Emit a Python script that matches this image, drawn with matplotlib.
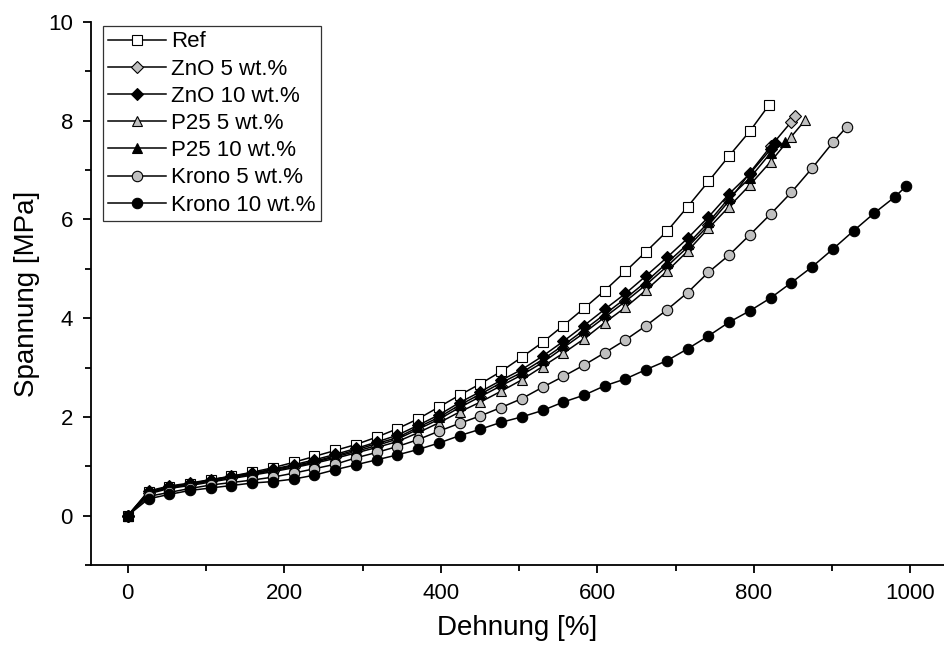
import matplotlib
matplotlib.use("Agg")
import matplotlib.pyplot as plt
from matplotlib.ticker import MultipleLocator

plt.rcParams['font.family'] = ['Liberation Sans', 'DejaVu Sans']

# strain positions of the plotted markers (every sampled point shown)
strain = [0, 26.5, 53, 79.5, 106, 132.5, 159, 185.5, 212, 238.5, 265, 291.5,
          318, 344.5, 371, 397.5, 424, 450.5, 477, 503.5, 530, 556.5, 583,
          609.5, 636, 662.5, 689, 715.5, 742, 768.5, 795, 821.5, 848, 874.5,
          901, 927.5, 954, 980.5]

# stress values [MPa] at those strains, last entry = break point
ref = [0, 0.47, 0.57, 0.64, 0.72, 0.80, 0.88, 0.97, 1.08, 1.20, 1.32, 1.44,
       1.59, 1.76, 1.96, 2.20, 2.44, 2.67, 2.92, 3.21, 3.51, 3.85, 4.20, 4.56,
       4.95, 5.35, 5.76, 6.26, 6.77, 7.29, 7.79]
ref_break = (819, 8.31)

zno5 = [0, 0.46, 0.57, 0.63, 0.70, 0.77, 0.84, 0.91, 0.99, 1.08, 1.19, 1.30,
        1.42, 1.55, 1.75, 1.95, 2.19, 2.41, 2.63, 2.85, 3.10, 3.40, 3.70, 4.02,
        4.34, 4.68, 5.05, 5.44, 5.88, 6.38, 6.95, 7.48, 7.98]
zno5_break = (853, 8.10)

zno10 = [0, 0.50, 0.60, 0.66, 0.73, 0.80, 0.86, 0.94, 1.03, 1.13, 1.24, 1.36,
         1.49, 1.63, 1.83, 2.04, 2.29, 2.51, 2.74, 2.96, 3.23, 3.53, 3.85, 4.18,
         4.50, 4.86, 5.23, 5.62, 6.05, 6.52, 6.93, 7.42]
zno10_break = (827, 7.55)

p25_5 = [0, 0.44, 0.55, 0.61, 0.68, 0.75, 0.82, 0.89, 0.97, 1.06, 1.16, 1.27,
         1.38, 1.50, 1.68, 1.88, 2.10, 2.30, 2.52, 2.75, 3.02, 3.29, 3.58, 3.91,
         4.22, 4.57, 4.95, 5.36, 5.82, 6.26, 6.70, 7.17, 7.68]
p25_5_break = (866, 8.02)

p25_10 = [0, 0.48, 0.58, 0.65, 0.72, 0.79, 0.86, 0.93, 1.01, 1.10, 1.21, 1.33,
          1.46, 1.58, 1.79, 1.99, 2.24, 2.46, 2.69, 2.90, 3.16, 3.45, 3.76, 4.08,
          4.40, 4.74, 5.12, 5.50, 5.94, 6.44, 6.84, 7.35]
p25_10_break = (840, 7.57)

krono5 = [0, 0.39, 0.47, 0.55, 0.62, 0.67, 0.72, 0.78, 0.86, 0.95, 1.04, 1.17,
          1.28, 1.40, 1.54, 1.71, 1.87, 2.02, 2.19, 2.37, 2.60, 2.82, 3.05, 3.30,
          3.56, 3.85, 4.17, 4.52, 4.93, 5.28, 5.69, 6.11, 6.55, 7.04, 7.56]
krono5_break = (919, 7.88)

krono10 = [0, 0.34, 0.43, 0.51, 0.56, 0.61, 0.66, 0.69, 0.74, 0.82, 0.93, 1.03,
           1.13, 1.23, 1.34, 1.47, 1.62, 1.75, 1.89, 2.00, 2.13, 2.30, 2.44, 2.63,
           2.77, 2.96, 3.14, 3.38, 3.64, 3.92, 4.15, 4.41, 4.72, 5.04, 5.40, 5.77,
           6.13, 6.46]
krono10_break = (995, 6.68)

labels = ["Ref", "ZnO 5 wt.%", "ZnO 10 wt.%", "P25 5 wt.%", "P25 10 wt.%",
          "Krono 5 wt.%", "Krono 10 wt.%"]

GREY = "#c0c0c0"
series = [
    (ref, ref_break, "s", "white", 6.5),
    (zno5, zno5_break, "D", GREY, 6.5),
    (zno10, zno10_break, "D", "black", 6.5),
    (p25_5, p25_5_break, "^", GREY, 7.5),
    (p25_10, p25_10_break, "^", "black", 7.5),
    (krono5, krono5_break, "o", GREY, 7.5),
    (krono10, krono10_break, "o", "black", 7.5),
]

fig = plt.figure(figsize=(9.44, 6.53), dpi=100)
ax = fig.add_axes([0.0964, 0.1348, 0.9036, 0.8315])

for (vals, brk, mk, face, ms), lab in zip(series, labels):
    xs = strain[:len(vals)] + [brk[0]]
    ys = vals + [brk[1]]
    ax.plot(xs, ys, color="black", lw=1.1, marker=mk, markersize=ms,
            markerfacecolor=face, markeredgecolor="black", markeredgewidth=0.8,
            label=lab)

ax.set_xlim(-47, 1043)
ax.set_ylim(-1, 10)
ax.xaxis.set_major_locator(MultipleLocator(200))
ax.xaxis.set_minor_locator(MultipleLocator(100))
ax.yaxis.set_major_locator(MultipleLocator(2))
ax.yaxis.set_minor_locator(MultipleLocator(1))

for side in ("top", "right"):
    ax.spines[side].set_visible(False)
for side in ("left", "bottom"):
    ax.spines[side].set_linewidth(1.3)

ax.tick_params(which="major", direction="out", length=6, width=1.3,
               labelsize=16, pad=7)
ax.tick_params(which="minor", direction="out", length=4, width=1.3)

ax.set_xlabel("Dehnung [%]", fontsize=20, labelpad=8)
ax.set_ylabel("Spannung [MPa]", fontsize=20, labelpad=6)

leg = ax.legend(loc="upper left", bbox_to_anchor=(0.014, 0.993), fontsize=16,
                frameon=True, fancybox=False, edgecolor="black",
                handlelength=2.6, handletextpad=0.2, labelspacing=0.28,
                borderpad=0.25, borderaxespad=0.0)
leg.get_frame().set_linewidth(0.9)

fig.savefig("out.png", dpi=100)
